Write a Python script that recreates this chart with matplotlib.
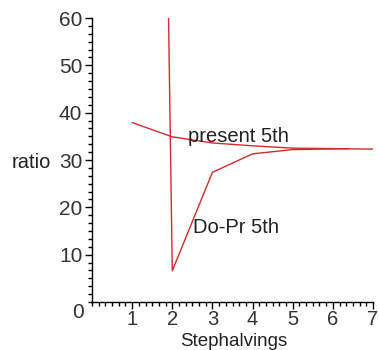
import matplotlib
matplotlib.use("Agg")
import matplotlib.pyplot as plt
from matplotlib.ticker import MultipleLocator

plt.rcParams['font.family'] = ['Liberation Sans', 'DejaVu Sans']

# Data
present_x = [1, 2, 3, 4, 5, 6, 7]
present_y = [37.9, 34.9, 33.6, 33.0, 32.5, 32.4, 32.3]
dopr_x = [1, 2, 3, 4, 5, 6.4]
dopr_y = [580, 6.6, 27.4, 31.3, 32.2, 32.4]

x_ticks = [1, 2, 3, 4, 5, 6, 7]
y_ticks = [10, 20, 30, 40, 50, 60]

W, H = 379, 350
fig = plt.figure(figsize=(W / 100, H / 100), dpi=100)
ax = fig.add_axes([92 / W, 1 - 302 / H, (373 - 92) / W, (302 - 18) / H])

color = '#d42a2a'
ax.plot(present_x, present_y, color=color, lw=1.0, clip_on=True)
ax.plot(dopr_x, dopr_y, color=color, lw=1.0, clip_on=True)

ax.set_xlim(0, 7)
ax.set_ylim(0, 60)
ax.spines['top'].set_visible(False)
ax.spines['right'].set_visible(False)
for s in ('left', 'bottom'):
    ax.spines[s].set_linewidth(1.0)
    ax.spines[s].set_color('black')

ax.set_xticks(x_ticks)
ax.set_yticks(y_ticks)
ax.xaxis.set_minor_locator(MultipleLocator(1 / 6))
ax.yaxis.set_minor_locator(MultipleLocator(10 / 6))
ax.tick_params(axis='both', which='major', direction='out', length=5, width=1,
               labelsize=15, colors='black', pad=2)
ax.tick_params(axis='both', which='minor', direction='out', length=3, width=1)
ax.tick_params(axis='x', which='major', pad=1, labelsize=14.5)
for lbl in ax.get_xticklabels() + ax.get_yticklabels():
    lbl.set_color('#333333')

# origin label
ax.annotate('0', xy=(0, 0), xytext=(-14, -10), textcoords='offset pixels',
            ha='center', va='center', fontsize=15, color='#333333',
            annotation_clip=False)

ax.text(2.39, 34.9, 'present 5th', fontsize=14.5, ha='left', va='center', color='#222222')
ax.text(2.52, 15.7, 'Do-Pr 5th', fontsize=14.5, ha='left', va='center', color='#222222')

fig.text(31 / W, 1 - 162 / H, 'ratio', fontsize=14.5, ha='center', va='center', color='#222222')
fig.text(234 / W, 0.5 / H, 'Stephalvings', fontsize=13.5, ha='center', va='bottom', color='#222222')

fig.savefig('out.png', dpi=100)
